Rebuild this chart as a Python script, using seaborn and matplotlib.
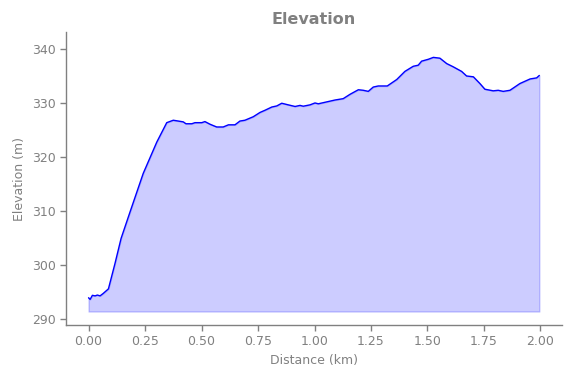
import matplotlib
matplotlib.use("Agg")
import matplotlib.pyplot as plt
import numpy as np
import pandas as pd
import seaborn as sns

# distance along the track (km) and elevation (m)
distance = [0.000, 0.007, 0.017, 0.029, 0.039, 0.051, 0.065, 0.088, 0.117, 0.144,
            0.184, 0.242, 0.302, 0.346, 0.375, 0.397, 0.419, 0.431, 0.457, 0.471,
            0.501, 0.515, 0.538, 0.567, 0.596, 0.619, 0.648, 0.670, 0.692, 0.729,
            0.759, 0.781, 0.811, 0.833, 0.855, 0.884, 0.914, 0.936, 0.950, 0.980,
            1.002, 1.017, 1.054, 1.091, 1.127, 1.157, 1.194, 1.216, 1.238, 1.260,
            1.282, 1.322, 1.364, 1.400, 1.437, 1.459, 1.474, 1.504, 1.526, 1.555,
            1.585, 1.614, 1.651, 1.673, 1.703, 1.732, 1.754, 1.791, 1.813, 1.835,
            1.865, 1.909, 1.954, 1.983, 1.995]
elevation = [293.85, 293.55, 294.3, 294.2, 294.35, 294.2, 294.65, 295.5, 300.2, 304.85,
             309.8, 316.9, 322.7, 326.3, 326.75, 326.6, 326.45, 326.1, 326.1, 326.3,
             326.3, 326.5, 326.0, 325.5, 325.5, 325.9, 325.9, 326.6, 326.75, 327.4,
             328.2, 328.6, 329.2, 329.4, 329.9, 329.6, 329.3, 329.5, 329.35, 329.6,
             329.95, 329.8, 330.15, 330.5, 330.75, 331.55, 332.4, 332.3, 332.1, 332.9,
             333.1, 333.1, 334.3, 335.8, 336.75, 336.95, 337.7, 338.05, 338.4, 338.25,
             337.25, 336.65, 335.8, 334.95, 334.8, 333.55, 332.5, 332.2, 332.3, 332.1,
             332.3, 333.55, 334.4, 334.6, 335.05]
baseline = 291.3

data = pd.DataFrame({"Distance": distance, "Elevation": elevation})

sns.set_theme(style='ticks', rc={'axes.linewidth': 1.0,
                                 'xtick.major.width': 1.0,
                                 'ytick.major.width': 1.0})
plt.rcParams['font.family'] = ['DejaVu Sans']
grey = '#808080'

fig = plt.figure(figsize=(5.71, 3.78), dpi=100)
ax = fig.add_axes([0.1156, 0.1402, 0.8684, 0.7751])

sns.lineplot(data=data, x="Distance", y="Elevation", color='blue', linewidth=1, ax=ax)
ax.fill_between(data["Distance"], data["Elevation"], baseline, color='blue', alpha=0.2)

ax.set_ylim(288.8, 343.1)
ax.set_xticks(np.arange(0, 2.01, 0.25))
ax.set_yticks(np.arange(290, 341, 10))

ax.set_title("Elevation", fontsize=11.5, fontweight='bold', color=grey)
ax.set_xlabel("Distance (km)", fontsize=9, color=grey)
ax.set_ylabel("Elevation (m)", fontsize=9, color=grey)
ax.tick_params(colors=grey, labelsize=9, labelcolor=grey, length=4)
for s in ['left', 'bottom']:
    ax.spines[s].set_color(grey)
sns.despine(ax=ax)

plt.savefig("out.png", dpi=100)
